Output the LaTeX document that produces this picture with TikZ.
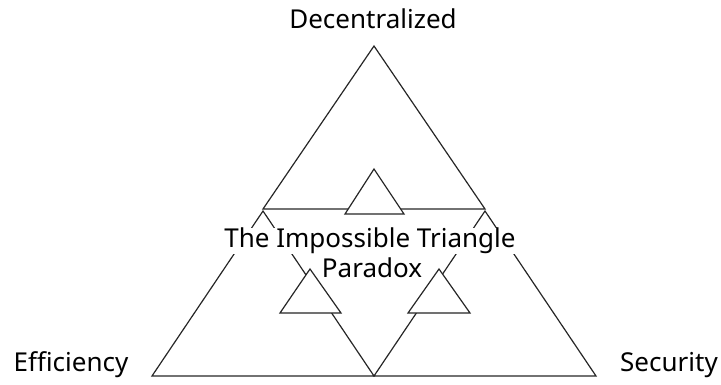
\documentclass[tikz,border=0pt]{standalone}
\usepackage{fontspec}
\setmainfont{Noto Sans}
\begin{document}
\begin{tikzpicture}[x=1pt,y=-1pt,
  edge/.style={draw=black!85, line width=1.2pt, line join=miter},
  small/.style={edge, fill=white},
  lbl/.style={font=\fontsize{26}{30}\selectfont, text=black, inner sep=1pt},
  mid/.style={lbl, fill=white, inner sep=0pt}]
\useasboundingbox (0,0) rectangle (721,385);
% big triangles
\coordinate (TA) at (374,46);
\coordinate (TL) at (263,209);
\coordinate (TR) at (485,209);
\coordinate (LA) at (263,211);
\coordinate (LL) at (152,376);
\coordinate (LR) at (374,376);
\coordinate (RA) at (485,211);
\coordinate (RL) at (374,376);
\coordinate (RR) at (596,376);
\draw[edge] (TA) -- (TL) -- (TR) -- cycle;
\draw[edge] (LA) -- (LL) -- (LR) -- cycle;
\draw[edge] (RA) -- (RL) -- (RR) -- cycle;
% small triangles
\coordinate (sTA) at (374,169);
\coordinate (sTL) at (345,214);
\coordinate (sTR) at (404,214);
\coordinate (sLA) at (310,269);
\coordinate (sLL) at (280,313);
\coordinate (sLR) at (341,313);
\coordinate (sRA) at (439,269);
\coordinate (sRL) at (408,313);
\coordinate (sRR) at (470,313);
\filldraw[small] (sTA) -- (sTL) -- (sTR) -- cycle;
\filldraw[small] (sLA) -- (sLL) -- (sLR) -- cycle;
\filldraw[small] (sRA) -- (sRL) -- (sRR) -- cycle;
% labels
\node[lbl] (dec) at (373,19) {Decentralized};
\node[lbl] (eff) at (71,365) {Efficiency};
\node[lbl] (sec) at (669,365) {Security};
\node[mid] (t1) at (370,241) {The Impossible Triangle};
\node[mid] (t2) at (372,268) {Paradox};
\end{tikzpicture}
\end{document}
